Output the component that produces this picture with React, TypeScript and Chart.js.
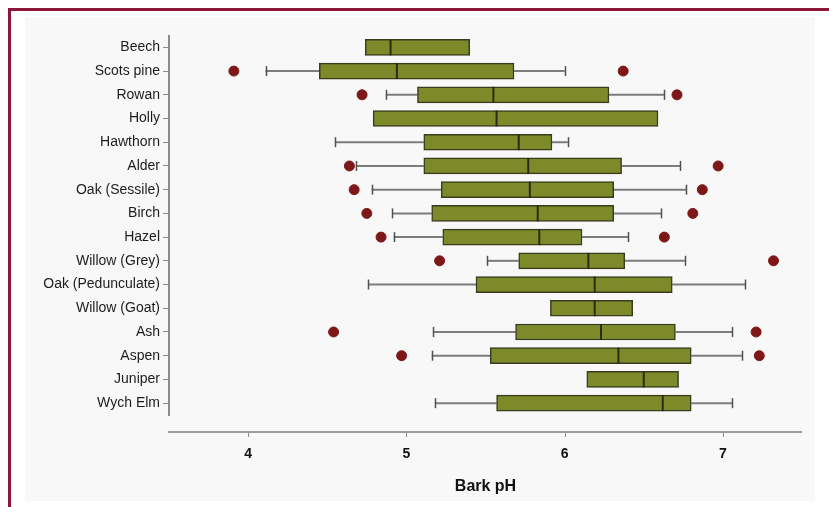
import React, { useEffect, useRef } from "react";
import { Chart, registerables } from "chart.js";

Chart.register(...registerables);

// Bark pH by tree species: box = quartiles, line = median, whiskers and outliers
const species = [
  "Beech",
  "Scots pine",
  "Rowan",
  "Holly",
  "Hawthorn",
  "Alder",
  "Oak (Sessile)",
  "Birch",
  "Hazel",
  "Willow (Grey)",
  "Oak (Pedunculate)",
  "Willow (Goat)",
  "Ash",
  "Aspen",
  "Juniper",
  "Wych Elm",
];
const q1 = [4.74, 4.45, 5.07, 4.79, 5.11, 5.11, 5.22, 5.16, 5.23, 5.71, 5.44, 5.91, 5.69, 5.53, 6.14, 5.57];
const median = [4.9, 4.94, 5.55, 5.57, 5.71, 5.77, 5.78, 5.83, 5.84, 6.15, 6.19, 6.19, 6.23, 6.34, 6.5, 6.62];
const q3 = [5.4, 5.68, 6.28, 6.59, 5.92, 6.36, 6.31, 6.31, 6.11, 6.38, 6.68, 6.43, 6.7, 6.8, 6.72, 6.8];
const whiskerLow = [null, 4.11, 4.87, null, 4.55, 4.68, 4.78, 4.91, 4.92, 5.51, 4.76, null, 5.17, 5.16, null, 5.18];
const whiskerHigh = [null, 6.0, 6.63, null, 6.02, 6.73, 6.77, 6.61, 6.4, 6.76, 7.14, null, 7.06, 7.12, null, 7.06];

const outlierSpecies = [
  "Scots pine", "Scots pine",
  "Rowan", "Rowan",
  "Alder", "Alder",
  "Oak (Sessile)", "Oak (Sessile)",
  "Birch", "Birch",
  "Hazel", "Hazel",
  "Willow (Grey)", "Willow (Grey)",
  "Ash", "Ash",
  "Aspen", "Aspen",
];
const outlierValues = [3.91, 6.37, 4.72, 6.71, 4.64, 6.97, 4.67, 6.87, 4.75, 6.81, 4.84, 6.63, 5.21, 7.32, 4.54, 7.21, 4.97, 7.23];

const xTicks = [4, 5, 6, 7];
const xMin = 3.5;
const xMax = 7.5;

const FONT = "'Liberation Sans', Arial, sans-serif";

// Whiskers (behind the boxes), medians and the detached x axis line
const boxPlotPlugin = {
  id: "boxPlotExtras",
  beforeDatasetsDraw(chart: any) {
    const { ctx, scales } = chart;
    const xs = scales.x;
    const ys = scales.y;
    ctx.save();
    species.forEach((_, i) => {
      const y = ys.getPixelForValue(i);
      const lo = whiskerLow[i];
      const hi = whiskerHigh[i];
      const segs: [number, number][] = [];
      if (lo !== null) segs.push([lo as number, q1[i]]);
      if (hi !== null) segs.push([q3[i], hi as number]);
      segs.forEach(([a, b]) => {
        ctx.strokeStyle = "#7c7c7c";
        ctx.lineWidth = 2;
        ctx.beginPath();
        ctx.moveTo(xs.getPixelForValue(a), y);
        ctx.lineTo(xs.getPixelForValue(b), y);
        ctx.stroke();
      });
      [lo, hi].forEach((v) => {
        if (v === null) return;
        const px = Math.round(xs.getPixelForValue(v as number)) + 0.5;
        ctx.strokeStyle = "#505050";
        ctx.lineWidth = 1.5;
        ctx.beginPath();
        ctx.moveTo(px, y - 5);
        ctx.lineTo(px, y + 5);
        ctx.stroke();
      });
    });
    ctx.restore();
  },
  afterDatasetsDraw(chart: any) {
    const { ctx, scales, chartArea } = chart;
    const xs = scales.x;
    const ys = scales.y;
    ctx.save();
    // medians
    species.forEach((_, i) => {
      const y = ys.getPixelForValue(i);
      const px = xs.getPixelForValue(median[i]);
      ctx.strokeStyle = "#2b2b12";
      ctx.lineWidth = 2;
      ctx.beginPath();
      ctx.moveTo(px, y - 8);
      ctx.lineTo(px, y + 8);
      ctx.stroke();
    });
    // detached x axis line with small tick marks
    const axisY = chartArea.bottom + 17;
    ctx.strokeStyle = "#9a9a9a";
    ctx.lineWidth = 2;
    ctx.beginPath();
    ctx.moveTo(chartArea.left - 1, axisY);
    ctx.lineTo(chartArea.right, axisY);
    ctx.stroke();
    ctx.lineWidth = 1;
    ctx.strokeStyle = "#8a8a8a";
    xTicks.forEach((v) => {
      const px = Math.round(xs.getPixelForValue(v)) + 0.5;
      ctx.beginPath();
      ctx.moveTo(px, axisY + 1);
      ctx.lineTo(px, axisY + 5);
      ctx.stroke();
    });
    ctx.restore();
  },
};

export default function App() {
  const canvasRef = useRef<HTMLCanvasElement | null>(null);

  useEffect(() => {
    const canvas = canvasRef.current;
    if (!canvas) return;
    const chart = new Chart(canvas, {
      type: "bar",
      data: {
        labels: species,
        datasets: [
          {
            type: "bar",
            label: "Interquartile range",
            data: species.map((_, i) => [q1[i], q3[i]]),
            backgroundColor: "#7d8a2a",
            borderColor: "#3a3b1c",
            borderWidth: 1.5,
            borderSkipped: false,
            barThickness: 16,
            order: 2,
          } as any,
          {
            type: "scatter",
            label: "Outliers",
            data: outlierValues.map((v, i) => ({ x: v, y: outlierSpecies[i] })),
            backgroundColor: "#7e1818",
            borderColor: "#7e1818",
            pointRadius: 5,
            pointHoverRadius: 5,
            order: 1,
          } as any,
        ],
      },
      options: {
        indexAxis: "y",
        responsive: false,
        animation: false,
        events: [],
        layout: { padding: { left: 0, right: 27, top: 35.5, bottom: 0 } },
        plugins: {
          legend: { display: false },
          tooltip: { enabled: false },
          title: { display: false },
        },
        scales: {
          x: {
            type: "linear",
            min: xMin,
            max: xMax,
            afterBuildTicks: (s: any) => {
              s.ticks = xTicks.map((v) => ({ value: v }));
            },
            afterFit: (s: any) => {
              s.height = 92;
            },
            grid: { display: false },
            border: { display: false },
            ticks: {
              padding: 23,
              color: "#111111",
              font: { family: FONT, size: 14, weight: "bold" },
            },
            title: {
              display: true,
              text: "Bark pH",
              color: "#111111",
              font: { family: FONT, size: 16, weight: "bold" },
              padding: { top: 0, bottom: 11 },
            },
          },
          y: {
            type: "category",
            offset: true,
            afterFit: (s: any) => {
              s.width = 169;
            },
            grid: {
              display: true,
              drawOnChartArea: false,
              drawTicks: true,
              tickLength: 6,
              offset: false,
              color: "#8c8c8c",
              lineWidth: 1,
            },
            border: { display: true, color: "#8c8c8c", width: 2 },
            ticks: {
              autoSkip: false,
              padding: 3,
              color: "#1c1c1c",
              font: { family: FONT, size: 14 },
            },
          },
        },
      },
      plugins: [boxPlotPlugin],
    } as any);
    return () => chart.destroy();
  }, []);

  return (
    <div
      style={{
        position: "fixed",
        left: 0,
        top: 0,
        width: 829,
        height: 507,
        background: "#ffffff",
        overflow: "hidden",
      }}
    >
      {/* frame: top and left rule */}
      <div style={{ position: "absolute", left: 8, top: 8, right: 0, height: 3, background: "#8e1538" }} />
      <div style={{ position: "absolute", left: 8, top: 8, width: 3, bottom: 0, background: "#8e1538" }} />
      {/* light panel behind the plot */}
      <div style={{ position: "absolute", left: 25, top: 17, width: 790, height: 484, background: "#f8f8f8" }} />
      <canvas
        ref={canvasRef}
        width={829}
        height={507}
        style={{ position: "absolute", left: 0, top: 0, width: 829, height: 507 }}
      />
    </div>
  );
}
